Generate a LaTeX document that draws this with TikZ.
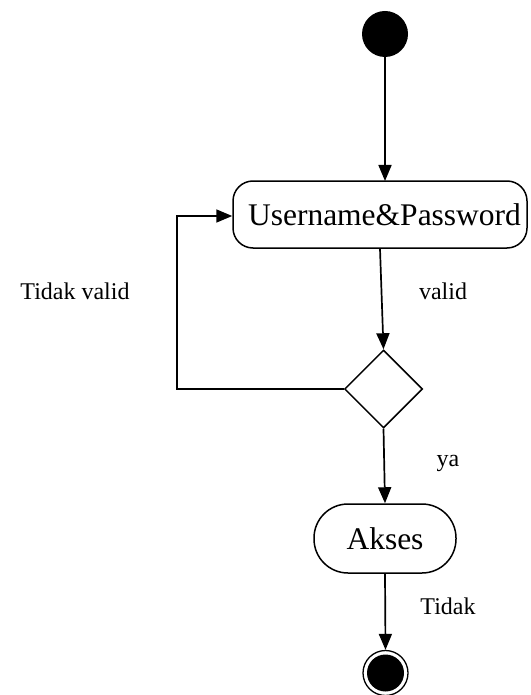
\documentclass[tikz,border=0pt]{standalone}
\usepackage{fontspec}
\setmainfont{Liberation Serif}
\usetikzlibrary{shapes.geometric,arrows.meta}
\begin{document}
\begin{tikzpicture}[x=1pt,y=-1pt,
  flow/.style={line width=1.7pt,-{Triangle[length=16pt,width=13pt]}},
  actbox/.style={draw,line width=1.5pt,rounded corners=20pt,inner sep=0pt,
    font=\fontsize{31.5}{36}\selectfont},
  lbl/.style={font=\fontsize{24}{28}\selectfont,inner sep=0pt}]
\useasboundingbox (0,0) rectangle (530,695);
% start and end points
\node (start) [circle,fill=black,minimum size=46pt,inner sep=0pt] at (385,34) {};
\node (stop) [circle,draw,line width=1.3pt,minimum size=45pt,inner sep=0pt] at (385.5,673) {};
\fill (stop.center) circle (18.5pt);
% actions
\node (login) [actbox,minimum width=294pt,minimum height=67pt] at (380,214.5) {};
\node at (384.5,214.5) [font=\fontsize{31.5}{36}\selectfont] {Username\&Password};
\node (akses) [actbox,rounded corners=34pt,minimum width=142pt,minimum height=69pt] at (385,538.5) {Akses};
% decision
\node (dec) [diamond,draw,line width=1.5pt,minimum width=78pt,minimum height=78pt,inner sep=0pt] at (383.5,389) {};
% connectors
\draw[flow] (start) -- (385,181);
\draw[flow] (login.south) -- (dec.north);
\draw[flow] (dec.west) -- (177,389) -- (177,216) -- (login.west |- 0,216);
\draw[flow] (dec.south) -- (akses.north);
\draw[flow] (akses.south) -- (stop.north);
% guard labels
\node[lbl] (lvalid) at (443,291) {valid};
\node[lbl] (linvalid) at (75,291) {Tidak valid};
\node[lbl] (lya) at (448,463) {ya};
\node[lbl] (ltidak) at (448,606) {Tidak};
\end{tikzpicture}
\end{document}
